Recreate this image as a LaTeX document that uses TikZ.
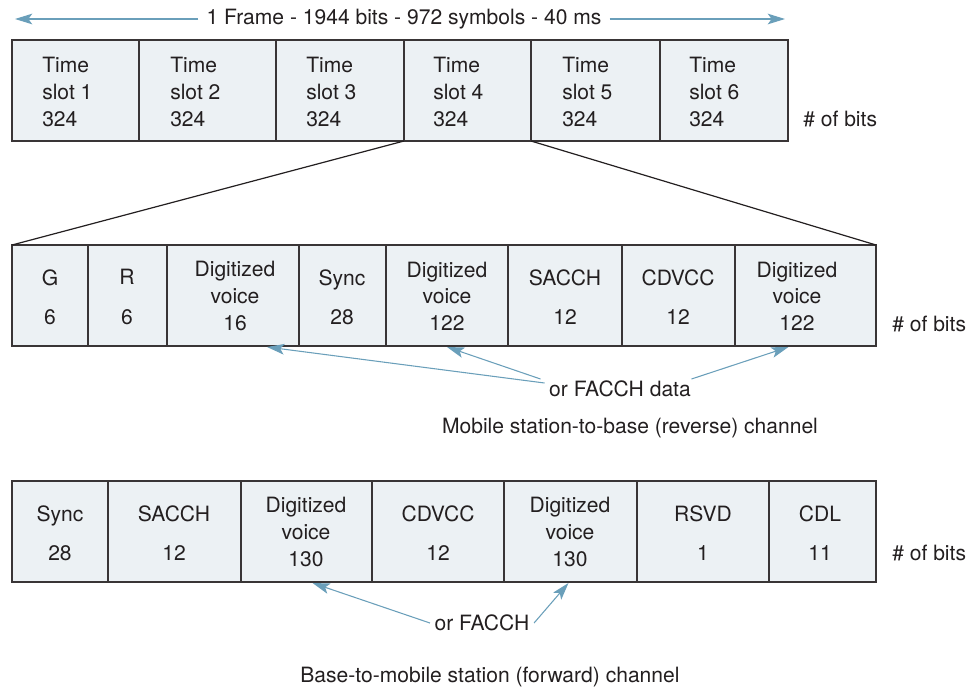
\documentclass[tikz,border=0pt]{standalone}
\usepackage{fontspec}
\setmainfont{TeX Gyre Heros}
\usetikzlibrary{arrows.meta,calc,fit}
\definecolor{cellfill}{HTML}{ECF1F4}
\definecolor{arrblue}{HTML}{6A9FBA}
\definecolor{ink}{HTML}{231F20}
\begin{document}
\begin{tikzpicture}[x=0.75pt,y=-0.75pt,
  font=\fontsize{15.8}{20}\selectfont, text=ink,
  cell/.style={draw=ink!90, line width=1.1pt, fill=cellfill, inner sep=0pt, outer sep=0pt},
  ltxt/.style={align=left, anchor=west, inner sep=0pt},
  ctxt/.style={align=center, inner sep=0pt},
  barrow/.style={draw=arrblue, line width=0.8pt, -{Stealth[length=13pt,width=8pt,inset=3pt]}},
  zoomline/.style={draw=ink, line width=0.9pt}]
\useasboundingbox (0,0) rectangle (976,689);

% ---- Frame row ----
\node[ctxt, inner xsep=6pt] (title) at (404,19) {1 Frame - 1944 bits - 972 symbols - 40 ms};
\coordinate (tl) at (15,19);
\coordinate (tr) at (785,19);
\draw[barrow] (title.west) -- (tl);
\draw[barrow] (title.east) -- (tr);

\node[cell, fit={(12,40) (139,141)}] (t1) {};
\node[cell, fit={(139,40) (276,141)}] (t2) {};
\node[cell, fit={(276,40) (404,141)}] (t3) {};
\node[cell, fit={(404,40) (531,141)}] (t4) {};
\node[cell, fit={(531,40) (660,141)}] (t5) {};
\node[cell, fit={(660,40) (788,141)}] (t6) {};
\node[ltxt] (t1t) at (42,92) {Time\\slot 1\\324};
\node[ltxt] (t2t) at (170,92) {Time\\slot 2\\324};
\node[ltxt] (t3t) at (306,92) {Time\\slot 3\\324};
\node[ltxt] (t4t) at (433,92) {Time\\slot 4\\324};
\node[ltxt] (t5t) at (562,92) {Time\\slot 5\\324};
\node[ltxt] (t6t) at (689,92) {Time\\slot 6\\324};
\node[ltxt] (tbits) at (803,119) {\# of bits};

% ---- Reverse channel ----
\node[cell, fit={(12,245) (88,346)}] (m1) {};
\node[cell, fit={(88,245) (167,346)}] (m2) {};
\node[cell, fit={(167,245) (299,346)}] (m3) {};
\node[cell, fit={(299,245) (386,346)}] (m4) {};
\node[cell, fit={(386,245) (508,346)}] (m5) {};
\node[cell, fit={(508,245) (622,346)}] (m6) {};
\node[cell, fit={(622,245) (735,346)}] (m7) {};
\node[cell, fit={(735,245) (876,346)}] (m8) {};
\node[ctxt] (m1t) at (50,297) {G\\[9.5pt]6};
\node[ctxt] (m2t) at (127,297) {R\\[9.5pt]6};
\node[ctxt] (m3t) at (235,296) {Digitized\\voice\\16};
\node[ctxt] (m4t) at (342,297) {Sync\\[9.5pt]28};
\node[ctxt] (m5t) at (447,296) {Digitized\\voice\\122};
\node[ctxt] (m6t) at (565,297) {SACCH\\[9.5pt]12};
\node[ctxt] (m7t) at (678,297) {CDVCC\\[9.5pt]12};
\node[ctxt] (m8t) at (797,296) {Digitized\\voice\\122};
\node[ltxt] (mbits) at (892,324) {\# of bits};

\draw[zoomline] (t4.south west) -- (m1.north west);
\draw[zoomline] (t4.south east) -- (m8.north east);

\node (fd) at (620,389) {or FACCH data};
\draw[barrow] ($(fd.west)+(0,-6)$) -- ($(m3.south)+(34,1)$);
\draw[barrow] ($(fd.west)+(-4,-10)$) -- ($(m5.south)+(0,1)$);
\draw[barrow] ($(fd.east)+(-4,-10)$) -- ($(m8.south)+(-17,1)$);
\node (rev) at (630,428) {Mobile station-to-base (reverse) channel};

% ---- Forward channel ----
\node[cell, fit={(12,481) (108,582)}] (b1) {};
\node[cell, fit={(108,481) (241,582)}] (b2) {};
\node[cell, fit={(241,481) (372,582)}] (b3) {};
\node[cell, fit={(372,481) (504,582)}] (b4) {};
\node[cell, fit={(504,481) (637,582)}] (b5) {};
\node[cell, fit={(637,481) (769,582)}] (b6) {};
\node[cell, fit={(769,481) (876,582)}] (b7) {};
\node[ctxt] (b1t) at (60,533) {Sync\\[9.5pt]28};
\node[ctxt] (b2t) at (174,533) {SACCH\\[9.5pt]12};
\node[ctxt] (b3t) at (306,532) {Digitized\\voice\\130};
\node[ctxt] (b4t) at (438,533) {CDVCC\\[9.5pt]12};
\node[ctxt] (b5t) at (570,532) {Digitized\\voice\\130};
\node[ctxt] (b6t) at (703,533) {RSVD\\[9.5pt]1};
\node[ctxt] (b7t) at (820,533) {CDL\\[9.5pt]11};
\node[ltxt] (bbits) at (892,553) {\# of bits};

\node (fb) at (482,623) {or FACCH};
\draw[barrow] (fb.west) -- ($(b3.south)+(6,1)$);
\draw[barrow] (fb.east) -- ($(b5.south)+(-2,1)$);
\node (fwd) at (490,677) {Base-to-mobile station (forward) channel};
\end{tikzpicture}
\end{document}
